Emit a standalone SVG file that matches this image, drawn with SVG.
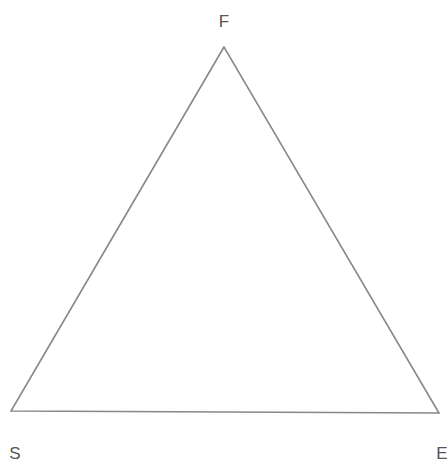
<svg xmlns="http://www.w3.org/2000/svg" width="447" height="466" viewBox="0 0 447 466">
<style>
.lbl{font-family:"Liberation Sans",Arial,sans-serif;font-size:17px;fill:#555}
.edge{fill:none;stroke:#888;stroke-width:1.6;stroke-linejoin:miter}
</style>
<rect width="447" height="466" fill="#fff"/>
<g id="connectors">
<polygon class="edge" points="224,47 11,411 439,413"/>
</g>
<g id="node-F"><text class="lbl" x="224" y="27" text-anchor="middle">F</text></g>
<g id="node-S"><text class="lbl" x="15" y="459" text-anchor="middle">S</text></g>
<g id="node-E"><text class="lbl" x="442" y="459" text-anchor="middle">E</text></g>
</svg>
